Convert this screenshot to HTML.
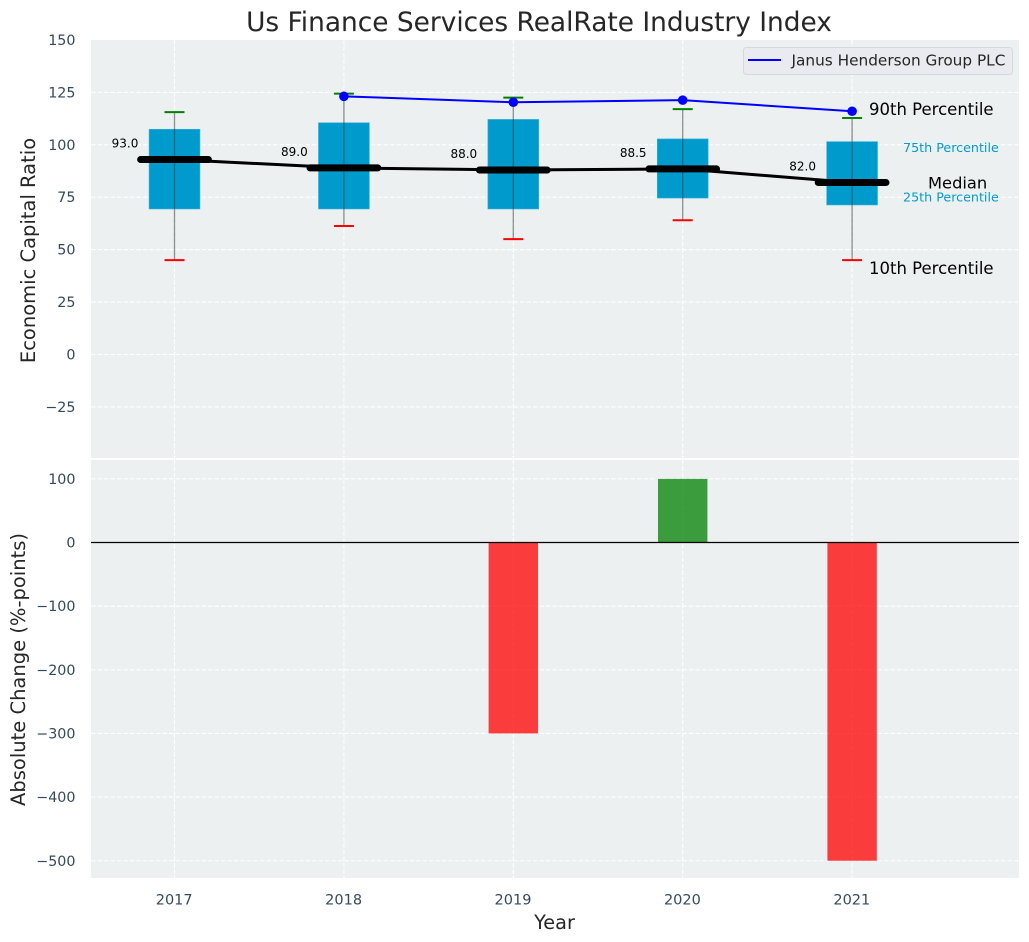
<!DOCTYPE html>
<html lang="en">
<head>
<meta charset="utf-8">
<title>Us Finance Services RealRate Industry Index</title>
<style>
html,body{margin:0;padding:0;background:#fff;}
svg{display:block;font-family:"DejaVu Sans","Liberation Sans",sans-serif;}
</style>
</head>
<body>
<svg id="chart" xmlns="http://www.w3.org/2000/svg" width="1029" height="942" viewBox="0 0 1029 942"></svg>
<script>
const years = [2017, 2018, 2019, 2020, 2021];
const p10 = [45, 61.3, 55, 64, 45];
const p25 = [69.4, 69.4, 69.4, 74.6, 71.3];
const medians = [93, 89, 88, 88.5, 82];
const p75 = [107.4, 110.5, 112.1, 102.8, 101.5];
const p90 = [115.6, 124.4, 122.5, 117, 112.8];
const companyYears = [2018, 2019, 2020, 2021];
const companyValues = [123.1, 120.3, 121.3, 116];
const changes = [0, 0, -300, 100, -500];
const topTicks = [150, 125, 100, 75, 50, 25, 0, -25];
const bottomTicks = [100, 0, -100, -200, -300, -400, -500];

const NS = 'http://www.w3.org/2000/svg';
const svg = document.getElementById('chart');
const L = 91, R = 1019, T1 = 40, B1 = 458, T2 = 460, B2 = 878;
const x = v => 174.5 + (v - 2017) * 169.4;
const yTop = v => 354.5 - v * 2.097;
const yBot = v => 542.5 - v * 0.6365;
const pxW = v => v * 169.4;

function mk(tag, attrs, text) {
  const e = document.createElementNS(NS, tag);
  for (const k in attrs) e.setAttribute(k, attrs[k]);
  if (text !== undefined) e.textContent = text;
  svg.appendChild(e);
  return e;
}
function fmt(v) { return String(v).replace('-', '\u2212'); }
const GRID = {stroke: '#fff', 'stroke-width': 1.1, 'stroke-dasharray': '4.5,2'};
let n;

n = mk('rect', {x: L, y: T1, width: R - L, height: B1 - T1, fill: '#ecf0f1'});


n = mk('rect', {x: L, y: T2, width: R - L, height: B2 - T2, fill: '#ecf0f1'});



topTicks.forEach(t => {
  if (t !== 150) {
    n = mk('line', {x1: L, x2: R, y1: yTop(t), y2: yTop(t), ...GRID});
    
    
  }
  n = mk('text', {x: 75.5, y: yTop(t) + 5, 'text-anchor': 'end', 'font-size': 14.3, fill: '#34495e'}, fmt(t));
  
  
});
bottomTicks.forEach(t => {
  n = mk('line', {x1: L, x2: R, y1: yBot(t), y2: yBot(t), ...GRID});
  
  
  n = mk('text', {x: 75.5, y: yBot(t) + 5, 'text-anchor': 'end', 'font-size': 14.3, fill: '#34495e'}, fmt(t));
  
  
});
years.forEach(yr => {
  n = mk('line', {x1: x(yr), x2: x(yr), y1: T1, y2: B1, ...GRID});
  
  
  n = mk('line', {x1: x(yr), x2: x(yr), y1: T2, y2: B2, ...GRID});
  
  
  n = mk('text', {x: x(yr) - 0.3, y: 904.5, 'text-anchor': 'middle', 'font-size': 14.5, fill: '#34495e'}, yr);
  
  
});

/* boxes */
years.forEach((yr, i) => {
  n = mk('rect', {x: x(yr) - pxW(0.15), y: yTop(p75[i]), width: pxW(0.3), height: yTop(p25[i]) - yTop(p75[i]), fill: '#009bcd', stroke: '#33b0d8', 'stroke-width': 0.6});
  
  
});

/* median connecting line */
n = mk('polyline', {points: years.map((yr, i) => x(yr) + ',' + yTop(medians[i])).join(' '), fill: 'none', stroke: '#000', 'stroke-width': 3});



years.forEach((yr, i) => {
  n = mk('line', {x1: x(yr), x2: x(yr), y1: yTop(p10[i]), y2: yTop(p90[i]), stroke: '#2f3b3f', 'stroke-opacity': 0.55, 'stroke-width': 1.3});
  
  
  n = mk('line', {x1: x(yr) - 10, x2: x(yr) + 10, y1: yTop(p90[i]), y2: yTop(p90[i]), stroke: '#008000', 'stroke-width': 2});
  
  
  n = mk('line', {x1: x(yr) - 10, x2: x(yr) + 10, y1: yTop(p10[i]), y2: yTop(p10[i]), stroke: '#ff0000', 'stroke-width': 2});
  
  
  n = mk('line', {x1: x(yr) - pxW(0.2), x2: x(yr) + pxW(0.2), y1: yTop(medians[i]), y2: yTop(medians[i]), stroke: '#000', 'stroke-width': 7, 'stroke-linecap': 'round'});
  
  
  n = mk('text', {x: x(yr) - 49.5, y: yTop(medians[i]) - 12, 'text-anchor': 'middle', 'font-size': 12, fill: '#000'}, medians[i].toFixed(1));
  
  
});

/* company line */
n = mk('polyline', {points: companyYears.map((yr, i) => x(yr) + ',' + yTop(companyValues[i])).join(' '), fill: 'none', stroke: '#0000ff', 'stroke-width': 2});


companyYears.forEach((yr, i) => {
  n = mk('circle', {cx: x(yr), cy: yTop(companyValues[i]), r: 4.8, fill: '#0000ff'});
  
  
});

/* annotations */
n = mk('text', {x: 869, y: 115, 'font-size': 16.5, fill: '#000'}, '90th Percentile');


n = mk('text', {x: 869, y: 274, 'font-size': 16.5, fill: '#000'}, '10th Percentile');


n = mk('text', {x: 928, y: 188.5, 'font-size': 16.3, fill: '#000'}, 'Median');


n = mk('text', {x: 903, y: 152, 'font-size': 12.7, fill: '#009bcd'}, '75th Percentile');


n = mk('text', {x: 903, y: 201.5, 'font-size': 12.7, fill: '#009bcd'}, '25th Percentile');



/* legend */
n = mk('rect', {x: 743.5, y: 47.5, width: 269, height: 27, rx: 3, fill: '#eaeaf0', 'fill-opacity': 0.9, stroke: '#d5d8dc', 'stroke-width': 1});


n = mk('line', {x1: 748, x2: 781, y1: 60, y2: 60, stroke: '#0000ff', 'stroke-width': 2});


n = mk('text', {x: 791.5, y: 65.5, 'font-size': 15.3, fill: '#262626'}, 'Janus Henderson Group PLC');



/* change bars */
years.forEach((yr, i) => {
  if (changes[i] === 0) return;
  const top = Math.min(yBot(changes[i]), yBot(0));
  const h = Math.abs(yBot(changes[i]) - yBot(0));
  n = mk('rect', {x: x(yr) - 24.7, y: top, width: 49.4, height: h, fill: changes[i] > 0 ? '#008000' : '#ff0000', 'fill-opacity': 0.75});
  
  
});
n = mk('line', {x1: L, x2: R, y1: yBot(0), y2: yBot(0), stroke: '#000', 'stroke-width': 1.3});



/* titles */
n = mk('text', {x: 539, y: 31, 'text-anchor': 'middle', 'font-size': 26.4, fill: '#262626'}, 'Us Finance Services RealRate Industry Index');


n = mk('text', {x: 554.5, y: 929, 'text-anchor': 'middle', 'font-size': 19.3, fill: '#262626'}, 'Year');


n = mk('text', {transform: 'translate(35,250.5) rotate(-90)', 'text-anchor': 'middle', 'font-size': 19.5, fill: '#262626'}, 'Economic Capital Ratio');


n = mk('text', {transform: 'translate(25,669.5) rotate(-90)', 'text-anchor': 'middle', 'font-size': 19.5, fill: '#262626'}, 'Absolute Change (%-points)');


</script>
</body>
</html>
